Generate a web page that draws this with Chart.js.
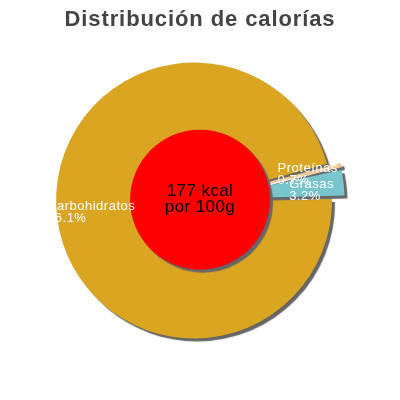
<!DOCTYPE html>
<html>
<head>
<meta charset="utf-8">
<script src="https://cdn.jsdelivr.net/npm/chart.js@4/dist/chart.umd.min.js"></script>
<style>
  html, body { margin: 0; padding: 0; background: #fff; }
  #wrap { width: 400px; height: 400px; }
</style>
</head>
<body>
<div id="wrap"><canvas id="pieChart"></canvas></div>
<script>
// Datos del gráfico
const titulo = "Distribución de calorías";
const categorias = ["Carbohidratos", "Proteínas", "Grasas"];
const porcentajes = [96.1, 0.7, 3.2];
const energia = ["177 kcal", "por 100g"];

const fuente = "'Liberation Sans', Arial, sans-serif";

// Sombra gris bajo las porciones
const sombra = {
  id: "sombra",
  beforeDraw(chart) {
    chart.ctx.letterSpacing = "0.9px";
  },
  beforeDatasetsDraw(chart) {
    const ctx = chart.ctx;
    ctx.save();
    ctx.shadowColor = "#666";
    ctx.shadowOffsetX = 3;
    ctx.shadowOffsetY = 3;
    ctx.shadowBlur = 1;
  },
  afterDatasetsDraw(chart) {
    chart.ctx.restore();
  },
  afterDraw(chart) {
    chart.ctx.letterSpacing = "0px";
  }
};

// Círculo rojo central con la energía
const centro = {
  id: "centro",
  afterDatasetsDraw(chart) {
    const ctx = chart.ctx;
    const arc = chart.getDatasetMeta(0).data[0];
    const cx = arc.x, cy = arc.y;
    ctx.save();
    ctx.shadowColor = "#666";
    ctx.shadowOffsetX = 3;
    ctx.shadowOffsetY = 3;
    ctx.shadowBlur = 1;
    ctx.beginPath();
    ctx.arc(cx, cy, arc.outerRadius * 0.53, 0, Math.PI * 2);
    ctx.fillStyle = "#FF0000";
    ctx.fill();
    ctx.restore();

    ctx.save();
    ctx.font = "17px " + fuente;
    ctx.letterSpacing = "0.4px";
    ctx.fillStyle = "#000";
    ctx.textAlign = "center";
    ctx.textBaseline = "alphabetic";
    ctx.fillText(energia[0], cx, cy - 4);
    ctx.fillText(energia[1], cx, cy + 12);
    ctx.restore();
  }
};

// Etiquetas blancas de cada porción
const etiquetas = {
  id: "etiquetas",
  afterDatasetsDraw(chart, args, opts) {
    const meta = chart.getDatasetMeta(0);
    const ctx = chart.ctx;
    ctx.save();
    ctx.font = "13px " + fuente;
    ctx.letterSpacing = "0.5px";
    ctx.fillStyle = "#fff";
    ctx.textAlign = "left";
    ctx.textBaseline = "middle";
    meta.data.forEach((arc, i) => {
      const mid = (arc.startAngle + arc.endAngle) / 2;
      const r = arc.outerRadius * opts.distancia[i];
      const x = arc.x + Math.cos(mid) * r;
      const y = arc.y + Math.sin(mid) * r;
      const a = opts.ancla[i];
      ctx.fillText(categorias[i], x, y - a * 12);
      ctx.fillText(porcentajes[i].toFixed(1) + "%", x, y + (1 - a) * 12);
    });
    ctx.restore();
  }
};

new Chart(document.getElementById("pieChart"), {
  type: "pie",
  data: {
    labels: categorias,
    datasets: [
      {
        data: porcentajes,
        backgroundColor: ["#DAA520", "#F0C896", "#79C5CE"],
        borderWidth: 0,
        offset: [24, 28, 28],
        radius: 132,
      },
    ],
  },
  options: {
    responsive: true,
    maintainAspectRatio: false,
    animation: false,
    rotation: 89,
    layout: { padding: { top: 0, bottom: 44, left: 0, right: 0 } },
    plugins: {
      legend: { display: false },
      tooltip: { enabled: false },
      title: {
        display: true,
        text: titulo,
        color: "#444",
        font: { family: fuente, size: 22, weight: "bold" },
        padding: { top: 7, bottom: 10 },
      },
      etiquetas: { distancia: [1.17, 0.605, 0.68], ancla: [1.25, 1, 0.4] },
    },
  },
  plugins: [sombra, centro, etiquetas],
});
</script>
</body>
</html>
